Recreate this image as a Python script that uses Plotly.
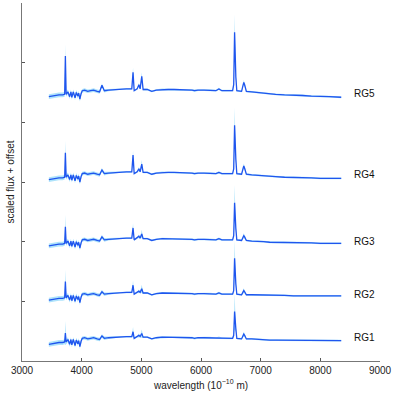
import plotly.graph_objects as go

# wavelength grid (Angstrom)
wavelength = [3450, 3500, 3560, 3620, 3680, 3715, 3727, 3740, 3770, 3798,
              3820, 3835, 3860, 3889, 3910, 3935, 3950, 3970, 3990, 4010,
              4050, 4102, 4150, 4200, 4260, 4300, 4340, 4380, 4450, 4550,
              4650, 4750, 4840, 4861, 4880, 4930, 4959, 4980, 5007, 5030,
              5100, 5175, 5250, 5350, 5450, 5550, 5650, 5750, 5850, 5890,
              5950, 6050, 6150, 6250, 6300, 6350, 6450, 6530, 6548, 6563,
              6584, 6600, 6680, 6717, 6731, 6760, 6850, 6950, 7050, 7150,
              7250, 7400, 7550, 7700, 7850, 8000, 8150, 8350]

# scaled flux (before offset)
rg1 = [0.29, 0.30, 0.30, 0.32, 0.32, 0.33, 0.48, 0.33, 0.37, 0.29,
       0.37, 0.28, 0.37, 0.27, 0.36, 0.30, 0.35, 0.25, 0.34, 0.39,
       0.40, 0.38, 0.39, 0.40, 0.38, 0.37, 0.43, 0.39, 0.40, 0.41,
       0.42, 0.42, 0.42, 0.50, 0.39, 0.42, 0.44, 0.42, 0.47, 0.41,
       0.41, 0.38, 0.40, 0.41, 0.41, 0.41, 0.41, 0.41, 0.40, 0.39,
       0.40, 0.40, 0.40, 0.39, 0.40, 0.39, 0.39, 0.39, 0.44, 0.84,
       0.55, 0.39, 0.38, 0.46, 0.44, 0.38, 0.38, 0.37, 0.37, 0.36,
       0.36, 0.36, 0.36, 0.36, 0.35, 0.35, 0.35, 0.35]
rg2 = [0.29, 0.30, 0.30, 0.32, 0.32, 0.33, 0.60, 0.33, 0.37, 0.29,
       0.37, 0.28, 0.37, 0.27, 0.36, 0.30, 0.35, 0.25, 0.34, 0.39,
       0.40, 0.38, 0.39, 0.40, 0.38, 0.37, 0.43, 0.39, 0.40, 0.41,
       0.42, 0.42, 0.42, 0.54, 0.39, 0.42, 0.44, 0.42, 0.48, 0.41,
       0.41, 0.38, 0.40, 0.41, 0.41, 0.41, 0.41, 0.41, 0.40, 0.39,
       0.40, 0.40, 0.40, 0.39, 0.41, 0.39, 0.39, 0.39, 0.45, 0.99,
       0.56, 0.39, 0.38, 0.45, 0.43, 0.38, 0.38, 0.38, 0.37, 0.37,
       0.37, 0.37, 0.36, 0.36, 0.36, 0.36, 0.36, 0.36]
rg3 = [0.29, 0.30, 0.30, 0.32, 0.32, 0.33, 0.61, 0.33, 0.37, 0.29,
       0.37, 0.28, 0.37, 0.27, 0.36, 0.30, 0.35, 0.25, 0.34, 0.39,
       0.40, 0.38, 0.39, 0.40, 0.38, 0.37, 0.44, 0.39, 0.40, 0.41,
       0.42, 0.42, 0.42, 0.59, 0.39, 0.42, 0.45, 0.42, 0.49, 0.41,
       0.41, 0.38, 0.40, 0.41, 0.41, 0.41, 0.41, 0.41, 0.40, 0.39,
       0.40, 0.40, 0.40, 0.39, 0.41, 0.39, 0.39, 0.39, 0.46, 1.01,
       0.58, 0.39, 0.38, 0.46, 0.44, 0.38, 0.37, 0.37, 0.36, 0.35,
       0.35, 0.35, 0.34, 0.34, 0.34, 0.33, 0.33, 0.33]
rg4 = [0.29, 0.30, 0.30, 0.32, 0.32, 0.33, 0.74, 0.33, 0.37, 0.29,
       0.37, 0.28, 0.37, 0.27, 0.36, 0.30, 0.35, 0.25, 0.34, 0.39,
       0.40, 0.38, 0.39, 0.40, 0.38, 0.37, 0.45, 0.39, 0.40, 0.41,
       0.42, 0.42, 0.42, 0.70, 0.39, 0.42, 0.47, 0.42, 0.55, 0.41,
       0.41, 0.38, 0.40, 0.41, 0.41, 0.41, 0.41, 0.41, 0.40, 0.39,
       0.40, 0.40, 0.40, 0.39, 0.41, 0.39, 0.39, 0.39, 0.47, 1.20,
       0.63, 0.39, 0.38, 0.52, 0.48, 0.38, 0.37, 0.36, 0.35, 0.34,
       0.34, 0.33, 0.33, 0.32, 0.32, 0.31, 0.31, 0.31]
rg5 = [0.29, 0.30, 0.30, 0.32, 0.32, 0.33, 0.97, 0.33, 0.37, 0.29,
       0.37, 0.28, 0.37, 0.27, 0.36, 0.30, 0.35, 0.25, 0.34, 0.39,
       0.40, 0.38, 0.39, 0.40, 0.38, 0.37, 0.48, 0.39, 0.40, 0.41,
       0.42, 0.42, 0.42, 0.70, 0.39, 0.42, 0.49, 0.42, 0.63, 0.41,
       0.41, 0.38, 0.40, 0.41, 0.41, 0.41, 0.41, 0.41, 0.40, 0.39,
       0.40, 0.40, 0.40, 0.39, 0.42, 0.39, 0.39, 0.39, 0.49, 1.37,
       0.62, 0.39, 0.38, 0.53, 0.49, 0.38, 0.37, 0.36, 0.35, 0.33,
       0.33, 0.32, 0.32, 0.31, 0.30, 0.30, 0.29, 0.28]

# flux uncertainty on the same grid
flux_err = [0.04, 0.04, 0.04, 0.04, 0.04, 0.04, 0.20, 0.04, 0.04, 0.04,
            0.04, 0.04, 0.04, 0.04, 0.04, 0.04, 0.04, 0.04, 0.04, 0.03,
            0.03, 0.03, 0.03, 0.03, 0.03, 0.03, 0.03, 0.03, 0.02, 0.015,
            0.015, 0.015, 0.015, 0.08, 0.015, 0.015, 0.03, 0.015, 0.07, 0.015,
            0.015, 0.015, 0.015, 0.015, 0.015, 0.015, 0.015, 0.015, 0.015, 0.02,
            0.015, 0.015, 0.015, 0.015, 0.02, 0.015, 0.015, 0.015, 0.03, 0.30,
            0.05, 0.015, 0.015, 0.04, 0.03, 0.015, 0.015, 0.015, 0.015, 0.015,
            0.015, 0.015, 0.015, 0.015, 0.015, 0.015, 0.015, 0.015]

names = ['RG1', 'RG2', 'RG3', 'RG4', 'RG5']
spectra = [rg1, rg2, rg3, rg4, rg5]
offsets = [-0.01, 0.73, 1.64, 2.75, 4.14]
label_y = [0.39, 1.12, 2.01, 3.13, 4.49]

line_color = '#1f55ee'
band_color = '#aee3fb'

fig = go.Figure()
for name, flux, off in zip(names, spectra, offsets):
    y = [f + off for f in flux]
    lo = [v - e for v, e in zip(y, flux_err)]
    hi = [v + e for v, e in zip(y, flux_err)]
    fig.add_trace(go.Scatter(x=wavelength, y=lo, mode='lines',
                             line=dict(width=0), hoverinfo='skip', showlegend=False))
    fig.add_trace(go.Scatter(x=wavelength, y=hi, mode='lines', fill='tonexty',
                             fillcolor=band_color, line=dict(width=0),
                             hoverinfo='skip', showlegend=False))
    fig.add_trace(go.Scatter(x=wavelength, y=y, mode='lines', name=name,
                             line=dict(color=line_color, width=1.3), showlegend=False))

for name, ly in zip(names, label_y):
    fig.add_annotation(x=8530, y=ly, text=name, showarrow=False, xanchor='left',
                       yanchor='middle', font=dict(size=10, color='#111'))

fig.update_layout(
    width=396, height=394,
    margin=dict(l=22, r=16, t=3, b=33),
    plot_bgcolor='white', paper_bgcolor='white',
    font=dict(family='Liberation Sans, Arial, sans-serif', size=10, color='#222'),
    xaxis=dict(range=[3000, 9000], tickvals=[3000, 4000, 5000, 6000, 7000, 8000, 9000],
               ticks='inside', ticklen=3, tickcolor='#555', showgrid=False, zeroline=False,
               showline=True, linecolor='#777', linewidth=1, automargin=False,
               title=dict(text='wavelength (10<sup>−10</sup> m)', standoff=6,
                          font=dict(size=10))),
    yaxis=dict(range=[0, 6], tickvals=[1, 2, 3, 4, 5], showticklabels=False,
               ticks='inside', ticklen=3, tickcolor='#555', showgrid=False, zeroline=False,
               showline=True, linecolor='#777', linewidth=1, automargin=False,
               title=dict(text='scaled flux + offset', standoff=4,
                          font=dict(size=10))),
)

# drop the default page margin so the figure sits at the window corner
fig.write_html("out.html", config={'displayModeBar': False},
               post_script="document.body.style.margin='0';")
